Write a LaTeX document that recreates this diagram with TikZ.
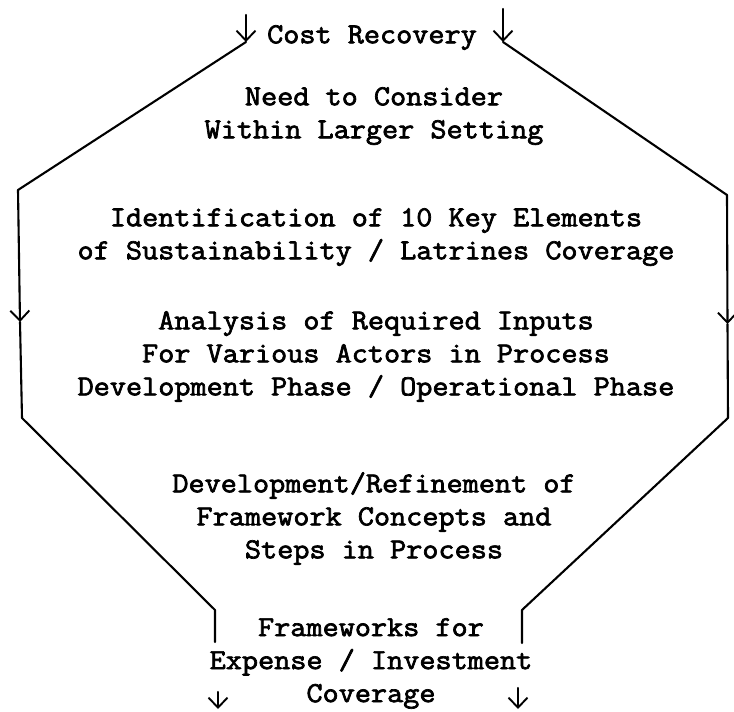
\documentclass[tikz,border=0pt]{standalone}
\usepackage{fontspec}
\newfontfamily\tw{Latin Modern Mono}[FakeBold=2.4,FakeStretch=1.08]
\usetikzlibrary{arrows.meta}
\begin{document}
\begin{tikzpicture}[x=1pt,y=-1pt,
  txt/.style={font=\tw\fontsize{29}{33}\selectfont, align=center, inner sep=0pt, anchor=north},
  ln/.style={line width=2.1pt, line cap=round, line join=round},
  arr/.style={ln, -{Straight Barb[length=10pt,width=19pt,line width=1.9pt]}},
  ]
\useasboundingbox (0,0) rectangle (734,712);
% texts
\node[txt] (cost) at (372,25) {Cost Recovery};
\node[txt] (need) at (374,87) {Need to Consider\\Within Larger Setting};
\node[txt] (ident) at (376,208) {Identification of 10 Key Elements\\of Sustainability / Latrines Coverage};
\node[txt] (anal) at (376,311) {Analysis of Required Inputs\\For Various Actors in Process\\Development Phase / Operational Phase};
\node[txt] (dev) at (374,472) {Development/Refinement of\\Framework Concepts and\\Steps in Process};
\node[txt] (frame) at (371,618) {Frameworks for\\Expense / Investment\\Coverage};
% coordinates
\coordinate (ltop) at (246,15);
\coordinate (ltip) at (246,42);
\coordinate (l1) at (18,190);
\coordinate (lmid) at (20,322);
\coordinate (l2) at (22,418);
\coordinate (l3) at (215,610);
\coordinate (l4) at (215,642);
\coordinate (rtop) at (503,9);
\coordinate (rtip) at (503,42);
\coordinate (r1) at (727,195);
\coordinate (rmid) at (727.5,324);
\coordinate (r2) at (728,418);
\coordinate (r3) at (522,610);
\coordinate (r4) at (522,643);
\coordinate (lbs) at (218,692);
\coordinate (lbe) at (218,709);
\coordinate (rbs) at (518,688);
\coordinate (rbe) at (518,709);
% left side
\draw[arr] (ltop) -- (ltip);
\draw[ln] (ltip) -- (l1);
\draw[arr] (l1) -- (lmid);
\draw[ln] (lmid) -- (l2) -- (l3) -- (l4);
\draw[arr] (lbs) -- (lbe);
% right side
\draw[arr] (rtop) -- (rtip);
\draw[ln] (rtip) -- (r1);
\draw[arr] (r1) -- (rmid);
\draw[ln] (rmid) -- (r2) -- (r3) -- (r4);
\draw[arr] (rbs) -- (rbe);
\end{tikzpicture}
\end{document}
